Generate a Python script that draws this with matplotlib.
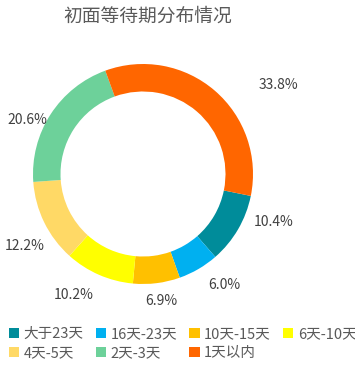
import numpy as np
import matplotlib.pyplot as plt
from matplotlib.patches import Patch

plt.rcParams['font.family'] = ['Noto Sans CJK SC', 'DejaVu Sans']

# data
categories = ['大于23天', '16天-23天', '10天-15天', '6天-10天', '4天-5天', '2天-3天', '1天以内']
shares = [10.4, 6.0, 6.9, 10.2, 12.2, 20.6, 33.8]
colors = ['#008C9A', '#00B0F0', '#FFC000', '#FFFF00', '#FFD966', '#6DD19A', '#FF6600']

fig = plt.figure(figsize=(3.55, 3.82), dpi=100)

# donut: center ~(143,174) px, radius ~110 px
ax = fig.add_axes([33 / 355, (382 - 174 - 110) / 382, 220 / 355, 220 / 382])
wedges, texts = ax.pie(
    shares, colors=colors, startangle=-11.5, counterclock=False,
    wedgeprops=dict(width=0.25, edgecolor='none'))
ax.set_xlim(-1, 1)
ax.set_ylim(-1, 1)
ax.set_aspect('equal')

# outside labels, nudged along the ring like the excel "best fit" layout
angle_nudge = [10, 6, 1, -6, 5, 8, -16]
dist = [1.27, 1.25, 1.17, 1.27, 1.26, 1.16, 1.47]
for w, v, da, r in zip(wedges, shares, angle_nudge, dist):
    a = np.deg2rad((w.theta1 + w.theta2) / 2 + da)
    ax.text(r * np.cos(a), r * np.sin(a), f'{v:.1f}%', ha='center', va='center',
            fontsize=10, color='#404040')

fig.text(148 / 355, 1 - 16 / 382, '初面等待期分布情况', ha='center', va='center',
         fontsize=13.5, color='#595959')

# legend is filled row by row in the reference
order = [0, 4, 1, 5, 2, 6, 3]
handles = [Patch(facecolor=colors[i], edgecolor='none') for i in order]
fig.legend(handles, [categories[i] for i in order], ncol=4, loc='upper left',
           bbox_to_anchor=(0.0, 1 - 318 / 382), frameon=False,
           fontsize=10.5, labelcolor='#595959', handlelength=0.7, handleheight=0.7,
           handletextpad=0.3, columnspacing=0.85, borderaxespad=0.2, labelspacing=0.35)

fig.savefig('out.png', dpi=100)
